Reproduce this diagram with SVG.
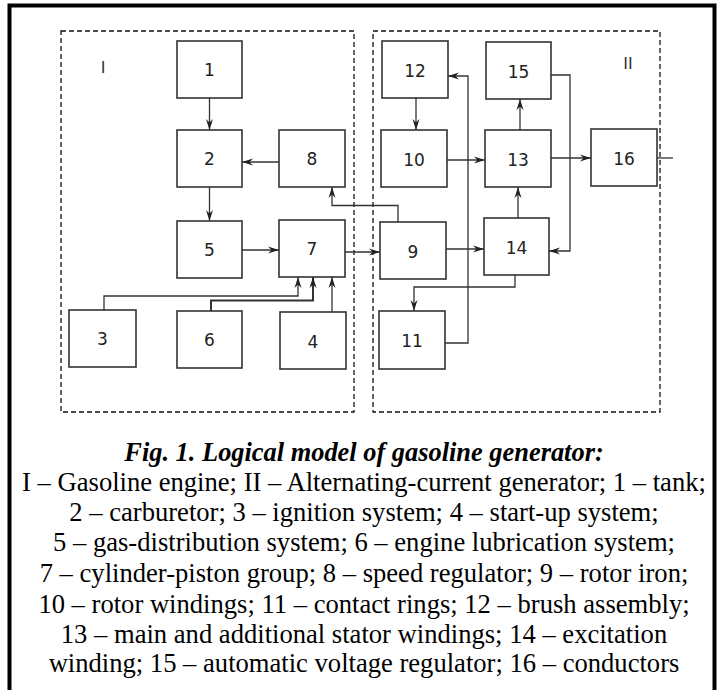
<svg xmlns="http://www.w3.org/2000/svg" width="720" height="690" viewBox="0 0 720 690">
<defs>
<marker id="arr" markerUnits="userSpaceOnUse" markerWidth="12" markerHeight="8" viewBox="0 -4 12 8" refX="11" refY="0" orient="auto">
<path d="M0,-3.5 L11,0 L0,3.5 L3.5,0 z" fill="#222"/>
</marker>
<style>
.box rect{fill:#fff;stroke:#333;stroke-width:1.6}
.box text{font-family:"DejaVu Sans",sans-serif;font-size:17px;fill:#222;text-anchor:middle}
.grp{fill:none;stroke:#111;stroke-width:1.3;stroke-dasharray:5,3}
.con path{fill:none;stroke:#333;stroke-width:1.3}
.lbl{font-family:"DejaVu Sans",sans-serif;font-size:16px;fill:#333;text-anchor:middle}
.cap{font-family:"Liberation Serif","Times New Roman",serif;font-size:26.6px;fill:#000;text-anchor:middle}
.title{font-size:26.4px;font-weight:bold;font-style:italic}
</style>
</defs>
<rect x="0" y="0" width="720" height="690" fill="#fff"/>
<rect x="9.5" y="5.5" width="705" height="700" fill="none" stroke="#000" stroke-width="4"/>
<g id="groupI"><rect class="grp" x="61" y="31" width="293" height="381"/><text class="lbl" x="103" y="73">I</text></g>
<g id="groupII"><rect class="grp" x="373" y="31" width="287" height="381"/><text class="lbl" x="628" y="69">II</text></g>
<g class="con" id="connectors">
<path d="M209.5,98 V130" marker-end="url(#arr)"/>
<path d="M279,162 H242" marker-end="url(#arr)"/>
<path d="M209.5,187 V221" marker-end="url(#arr)"/>
<path d="M242,250 H279" marker-end="url(#arr)"/>
<path d="M345,252 H380" marker-end="url(#arr)"/>
<path d="M398,222 V205.5 H332 V187" marker-end="url(#arr)"/>
<path d="M104,310 V296 H298 V277" marker-end="url(#arr)"/>
<path d="M211,311 V300.5 H313 V277" marker-end="url(#arr)" style="stroke-width:2"/>
<path d="M332,312 V277" marker-end="url(#arr)"/>
<path d="M446,249 H484" marker-end="url(#arr)"/>
<path d="M515,275 V287 H414 V311" marker-end="url(#arr)"/>
<path d="M445,343 H468 V76 H448" marker-end="url(#arr)"/>
<path d="M447,160 H485" marker-end="url(#arr)"/>
<path d="M520,130 V99" marker-end="url(#arr)"/>
<path d="M551,158 H591" marker-end="url(#arr)"/>
<path d="M518,218 V187" marker-end="url(#arr)"/>
<path d="M551,75 H570 V251 H549" marker-end="url(#arr)"/>
<path d="M416,98 V130" marker-end="url(#arr)"/>
<path d="M657,158 H673"/>
</g>
<g class="box" id="n1"><rect x="177" y="41" width="65" height="57"/><text x="209.5" y="76">1</text></g>
<g class="box" id="n2"><rect x="177" y="130" width="65" height="57"/><text x="209.5" y="165">2</text></g>
<g class="box" id="n8"><rect x="279" y="130" width="66" height="57"/><text x="312" y="165">8</text></g>
<g class="box" id="n5"><rect x="177" y="221" width="65" height="57"/><text x="209.5" y="256">5</text></g>
<g class="box" id="n7"><rect x="279" y="220" width="66" height="57"/><text x="312" y="255">7</text></g>
<g class="box" id="n3"><rect x="69" y="310" width="67" height="57"/><text x="102.5" y="345">3</text></g>
<g class="box" id="n6"><rect x="177" y="311" width="65" height="57"/><text x="209.5" y="346">6</text></g>
<g class="box" id="n4"><rect x="280" y="312" width="66" height="57"/><text x="313" y="348">4</text></g>
<g class="box" id="n12"><rect x="382" y="41" width="66" height="57"/><text x="415" y="77">12</text></g>
<g class="box" id="n15"><rect x="486" y="42" width="65" height="57"/><text x="518.5" y="78">15</text></g>
<g class="box" id="n10"><rect x="381" y="130" width="66" height="57"/><text x="414" y="166">10</text></g>
<g class="box" id="n13"><rect x="485" y="130" width="66" height="57"/><text x="518" y="166">13</text></g>
<g class="box" id="n16"><rect x="591" y="129" width="66" height="57"/><text x="624" y="165">16</text></g>
<g class="box" id="n9"><rect x="380" y="222" width="66" height="57"/><text x="413" y="258">9</text></g>
<g class="box" id="n14"><rect x="484" y="218" width="65" height="57"/><text x="516.5" y="254">14</text></g>
<g class="box" id="n11"><rect x="379" y="311" width="66" height="58"/><text x="412" y="347">11</text></g>
<g id="caption">
<text class="cap title" x="364" y="461">Fig. 1. Logical model of gasoline generator:</text>
<text class="cap" x="364" y="491">I – Gasoline engine; II – Alternating-current generator; 1 – tank;</text>
<text class="cap" x="364" y="521">2 – carburetor; 3 – ignition system; 4 – start-up system;</text>
<text class="cap" x="364" y="551">5 – gas-distribution system; 6 – engine lubrication system;</text>
<text class="cap" x="364" y="582">7 – cylinder-piston group; 8 – speed regulator; 9 – rotor iron;</text>
<text class="cap" x="364" y="613">10 – rotor windings; 11 – contact rings; 12 – brush assembly;</text>
<text class="cap" x="364" y="643">13 – main and additional stator windings; 14 – excitation</text>
<text class="cap" x="364" y="672">winding; 15 – automatic voltage regulator; 16 – conductors</text>
</g>
</svg>
